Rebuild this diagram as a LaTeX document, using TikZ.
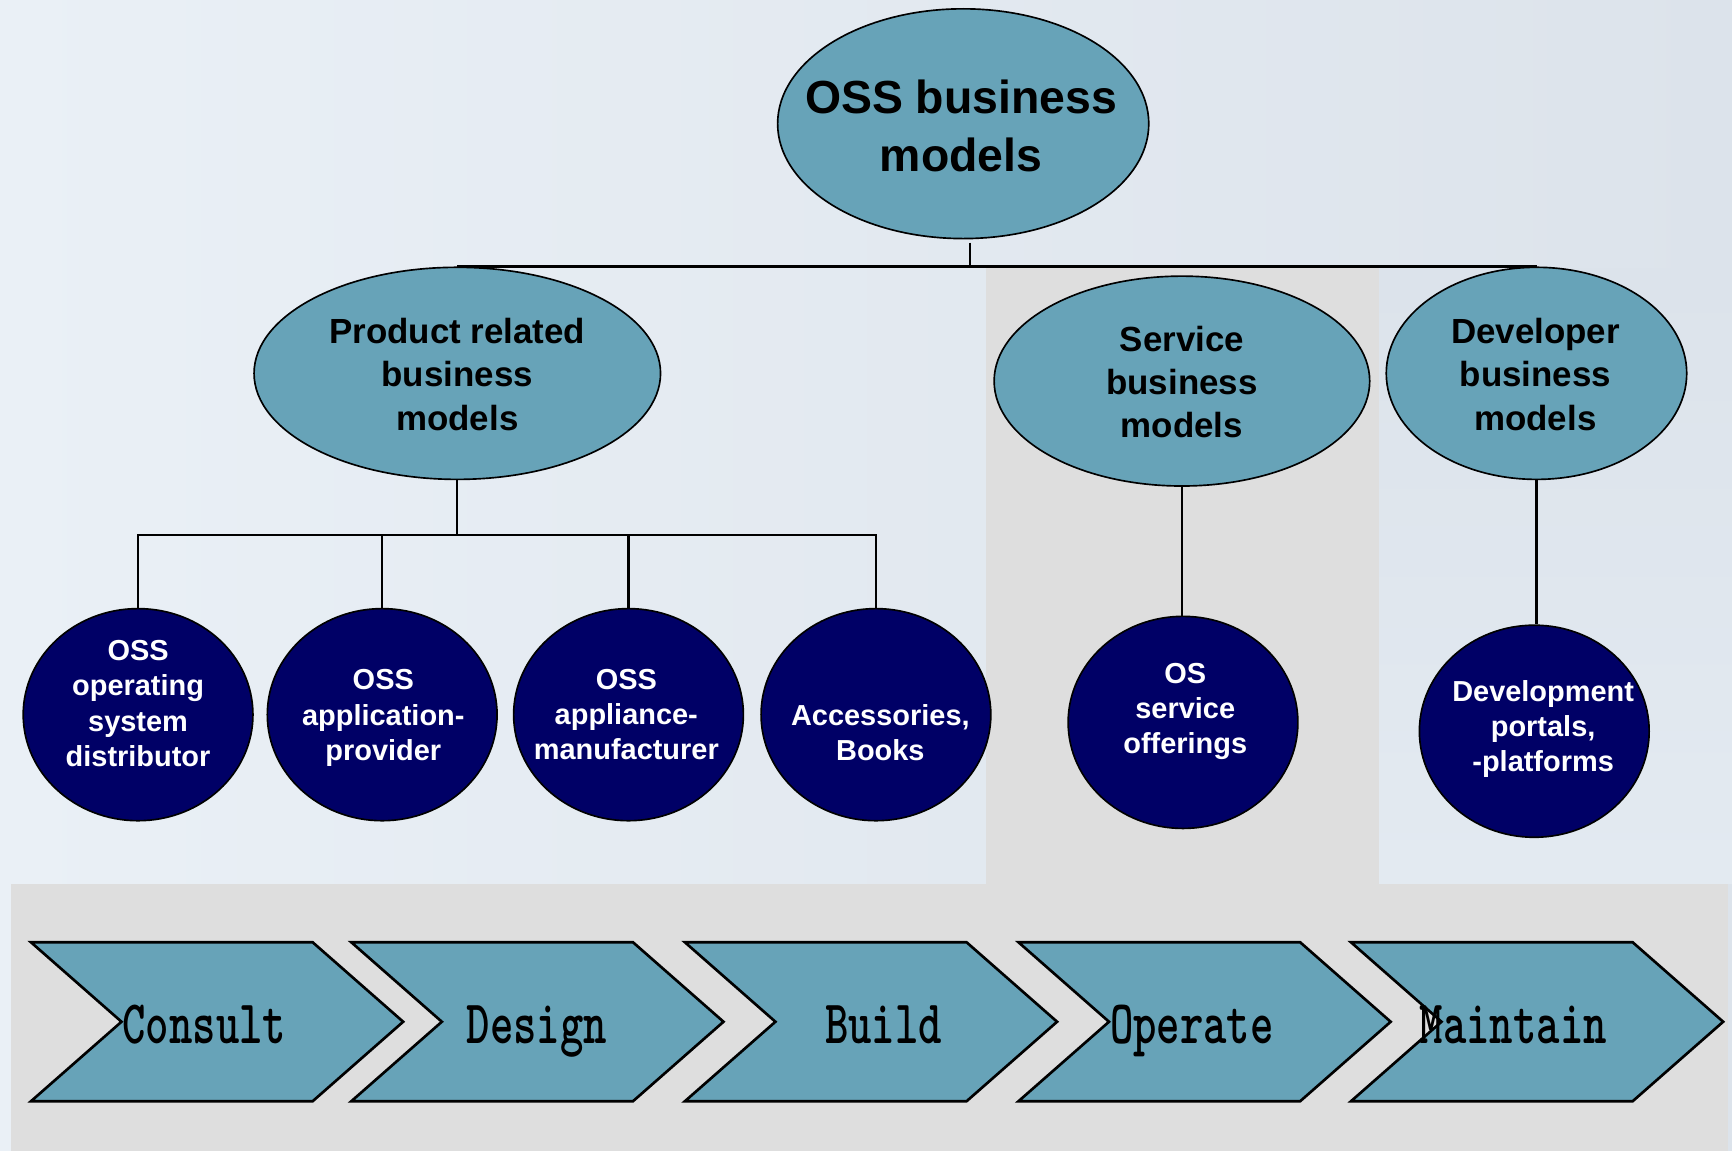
\documentclass[tikz,border=0pt]{standalone}
\usepackage{fontspec}
\setmainfont{Liberation Sans}
\usetikzlibrary{shapes.geometric}
\definecolor{teal1}{HTML}{67A3B8}
\definecolor{navy1}{HTML}{000066}
\definecolor{panel}{HTML}{DEDEDE}
\definecolor{bgA}{HTML}{EAF0F6}
\definecolor{bgB}{HTML}{DCE3EB}
\definecolor{bgC}{HTML}{E3EAF1}
\begin{document}
\begin{tikzpicture}[x=0.5pt,y=-0.5pt,
  oval/.style={ellipse, draw=black, line width=0.75pt, fill=teal1, inner sep=0pt},
  dark/.style={ellipse, draw=black, line width=0.75pt, fill=navy1, inner sep=0pt, minimum width=104pt, minimum height=96pt},
  roottext/.style={align=center, font=\fontsize{21}{26}\selectfont\bfseries, inner sep=0pt},
  midtext/.style={align=center, font=\fontsize{15.8}{19.5}\selectfont\bfseries, inner sep=0pt},
  leaftext/.style={align=center, text=white, font=\fontsize{13.1}{16}\selectfont\bfseries, inner sep=0pt},
  conn/.style={draw=black, line width=1pt},
  chev/.style={draw=black, line width=1.2pt, fill=teal1, line join=miter},
  chevtext/.style={anchor=base, inner sep=0pt, font=\fontsize{28}{30}\selectfont\ttfamily\bfseries}
]
% background and panels
\useasboundingbox (0,0) rectangle (1568,1042);
\shade[left color=bgA, right color=bgB] (0,0) rectangle (1568,1042);
\shade[top color=bgB, bottom color=bgC] (1248,243) rectangle (1568,800);
\fill[panel] (10,800) rectangle (1564,1042);
\fill[panel] (893,243) rectangle (1248,800);

% ellipses
\node[oval, minimum width=168pt, minimum height=104pt] (root) at (872,112) {};
\node[oval, minimum width=184pt, minimum height=96pt] (prod) at (414,338) {};
\node[oval, minimum width=170pt, minimum height=95pt] (serv) at (1070,345) {};
\node[oval, minimum width=136pt, minimum height=96pt] (dev) at (1391,338) {};

% leaf circles
\node[dark] (c1) at (125,647) {};
\node[dark] (c2) at (346,647) {};
\node[dark] (c3) at (569,647) {};
\node[dark] (c4) at (793,647) {};
\node[dark] (os) at (1071,654) {};
\node[dark] (devp) at (1389,662) {};

% connectors
\coordinate (topbar) at (0,242);
\coordinate (prodbar) at (0,484);
\draw[draw=black, line width=0.6pt] ([xshift=3pt,yshift=-1.5pt]root.south) -- ([xshift=3pt]root.south |- topbar);
\draw[conn] (prod.north) -- (dev.north);
\draw[conn] (prod.south) -- (prod.south |- prodbar);
\draw[conn] (c1.north) -- (c1.north |- prodbar) -- (c4.north |- prodbar) -- (c4.north);
\draw[conn] (c2.north) -- (c2.north |- prodbar);
\draw[conn] (c3.north) -- (c3.north |- prodbar);
\draw[conn] (serv.south) -- (serv.south |- os.north);
\draw[conn] (dev.south) -- (dev.south |- devp.north);

% texts
\node[roottext] (rootlbl) at (870,114) {OSS business\\models};
\node[midtext] (prodlbl) at (414,339) {Product related\\business\\models};
\node[midtext] (servlbl) at (1070,346) {Service\\business\\models};
\node[midtext] (devlbl) at (1390,339) {Developer\\business\\models};
\node[leaftext] (c1lbl) at (125,637) {OSS\\operating\\system\\distributor};
\node[leaftext] (c2lbl) at (347,650) {OSS\\application-\\provider};
\node[leaftext] (c3lbl) at (567,647) {OSS\\appliance-\\manufacturer};
\node[leaftext] (c4lbl) at (797,663) {Accessories,\\Books};
\node[leaftext] (oslbl) at (1073,644) {OS\\service\\offerings};
\node[leaftext] (devplbl) at (1397,660) {Development\\portals,\\-platforms};

% chevrons
\foreach \x in {28,318,620,922,1223} {
  \draw[chev] (\x,853) -- ++(255,0) -- ++(82,72) -- ++(-82,72) -- ++(-255,0) -- ++(82,-72) -- cycle;
}
\node[chevtext] (consult) at (185,945) {\scalebox{0.72}[1]{Consult}};
\node[chevtext] (design) at (486,945) {\scalebox{0.72}[1]{Design}};
\node[chevtext] (build) at (800,945) {\scalebox{0.72}[1]{Build}};
\node[chevtext] (operate) at (1079,945) {\scalebox{0.72}[1]{Operate}};
\node[chevtext] (maintain) at (1370,945) {\scalebox{0.72}[1]{Maintain}};
\end{tikzpicture}
\end{document}
